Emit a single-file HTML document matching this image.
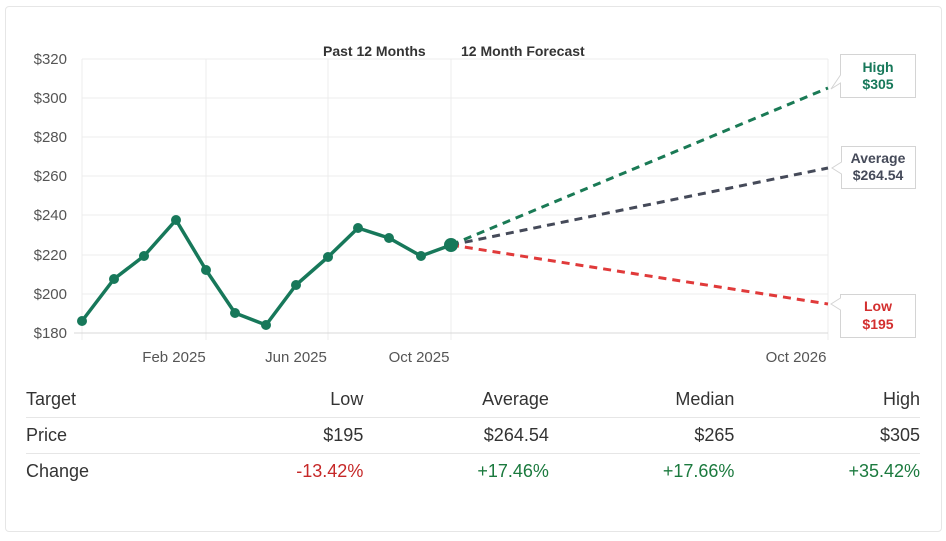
<!DOCTYPE html>
<html><head><style>
body{margin:0;width:946px;height:541px;background:#fff;font-family:"Liberation Sans",sans-serif;overflow:hidden;position:relative}
.card{position:absolute;left:5px;top:6px;width:935px;height:524px;border:1px solid #e6e6e6;border-radius:4px}
table{position:absolute;left:26px;top:382px;width:894px;border-collapse:collapse;font-size:18px;color:#333}
td{height:35px;padding:0;text-align:right;border-bottom:1px solid #e6e6e6}
tr:last-child td{border-bottom:none}
td:first-child{text-align:left}
.r{color:#c62828}.g{color:#1b7a3e}
</style></head><body>
<div class="card"></div>
<svg width="946" height="380" style="position:absolute;left:0;top:0" font-family="Liberation Sans, sans-serif">
<g stroke="#ececec" stroke-width="1">
<line x1="82" y1="59" x2="828" y2="59"/><line x1="82" y1="98" x2="828" y2="98"/><line x1="82" y1="137" x2="828" y2="137"/><line x1="82" y1="176" x2="828" y2="176"/><line x1="82" y1="215" x2="828" y2="215"/><line x1="82" y1="255" x2="828" y2="255"/><line x1="82" y1="294" x2="828" y2="294"/>
<line x1="82" y1="59" x2="82" y2="340"/><line x1="206" y1="59" x2="206" y2="340"/><line x1="328" y1="59" x2="328" y2="340"/><line x1="451" y1="59" x2="451" y2="340"/><line x1="828" y1="59" x2="828" y2="340"/>
</g>
<line x1="74" y1="333" x2="828" y2="333" stroke="#d8d8d8"/>
<g font-size="15" fill="#555" text-anchor="end">
<text x="67" y="64">$320</text><text x="67" y="103">$300</text><text x="67" y="142">$280</text><text x="67" y="181">$260</text><text x="67" y="220">$240</text><text x="67" y="260">$220</text><text x="67" y="299">$200</text><text x="67" y="338">$180</text>
</g>
<g font-size="15" fill="#555" text-anchor="middle">
<text x="174" y="362">Feb 2025</text><text x="296" y="362">Jun 2025</text><text x="419" y="362">Oct 2025</text><text x="796" y="362">Oct 2026</text>
</g>
<g font-size="14" font-weight="bold" fill="#333"><text x="323" y="56">Past 12 Months</text><text x="461" y="56">12 Month Forecast</text></g>
<g stroke-width="3" stroke-dasharray="8,6" fill="none">
<line x1="451" y1="245" x2="828" y2="88" stroke="#1a7a55"/>
<line x1="451" y1="245" x2="828" y2="168" stroke="#454a59"/>
<line x1="451" y1="245" x2="828" y2="304" stroke="#e03a3a"/>
</g>
<polyline fill="none" stroke="#17785a" stroke-width="3.5" stroke-linejoin="round" points="82,321 114,279 144,256 176,220 206,270 235,313 266,325 296,285 328,257 358,228 389,238 421,256 451,245"/>
<g fill="#17785a">
<circle cx="82" cy="321" r="5"/><circle cx="114" cy="279" r="5"/><circle cx="144" cy="256" r="5"/><circle cx="176" cy="220" r="5"/><circle cx="206" cy="270" r="5"/><circle cx="235" cy="313" r="5"/><circle cx="266" cy="325" r="5"/><circle cx="296" cy="285" r="5"/><circle cx="328" cy="257" r="5"/><circle cx="358" cy="228" r="5"/><circle cx="389" cy="238" r="5"/><circle cx="421" cy="256" r="5"/><circle cx="451" cy="245" r="7"/>
</g>
<g fill="#fff" stroke="#d4d4d4">
<path d="M840.5,54.5 H915.5 V97.5 H840.5 V83 L831,89 L840.5,75 Z"/>
<path d="M841.5,146.5 H915.5 V188.5 H841.5 V174 L832,168 L841.5,162 Z"/>
<path d="M840.5,294.5 H915.5 V337.5 H840.5 V310 L831,304 L840.5,298 Z"/>
</g>
<g font-size="14" font-weight="bold" text-anchor="middle">
<text x="878" y="72" fill="#17785a">High</text><text x="878" y="89" fill="#17785a">$305</text>
<text x="878" y="163" fill="#454a59">Average</text><text x="878" y="180" fill="#454a59">$264.54</text>
<text x="878" y="311" fill="#d32f2f">Low</text><text x="878" y="329" fill="#d32f2f">$195</text>
</g>
</svg>
<table>
<tr><td>Target</td><td>Low</td><td>Average</td><td>Median</td><td>High</td></tr>
<tr><td>Price</td><td>$195</td><td>$264.54</td><td>$265</td><td>$305</td></tr>
<tr><td>Change</td><td class="r">-13.42%</td><td class="g">+17.46%</td><td class="g">+17.66%</td><td class="g">+35.42%</td></tr>
</table>
</body></html>
